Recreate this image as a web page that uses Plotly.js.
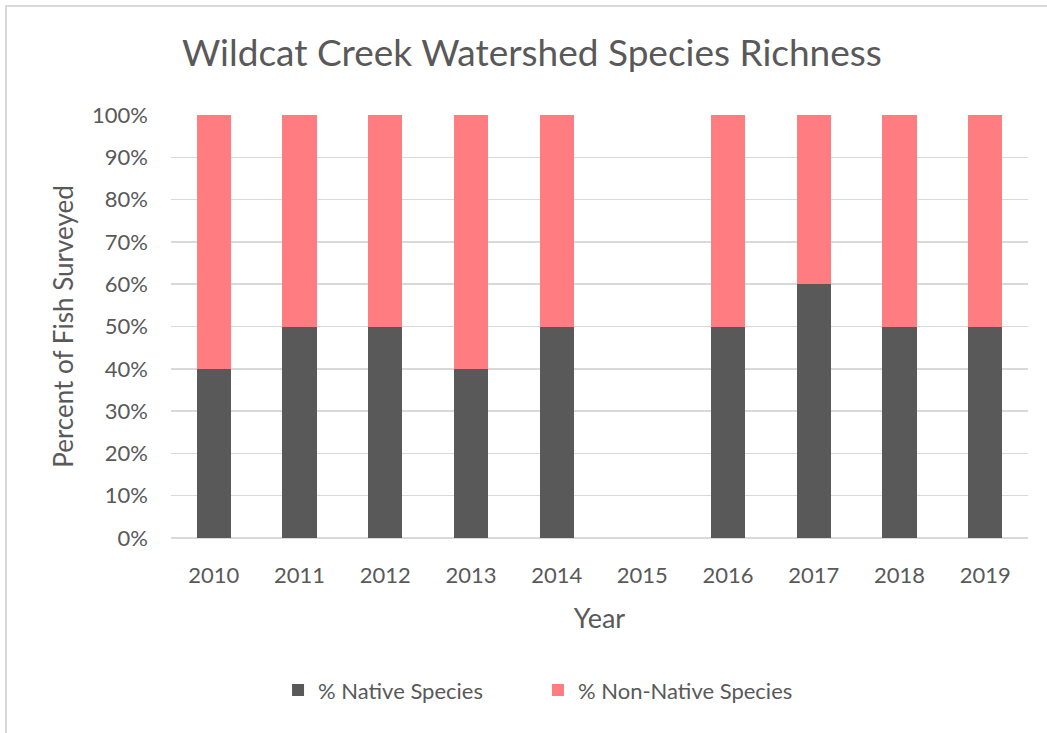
<!DOCTYPE html>
<html>
<head>
<meta charset="utf-8">
<script src="https://cdn.plot.ly/plotly-3.0.1.min.js"></script>
<style>
  html, body { margin: 0; padding: 0; background: #ffffff; }
  #chart { position: absolute; left: 0; top: 0; width: 1047px; height: 733px; }
  #frame { position: absolute; left: 5px; top: 5px; width: 1100px; height: 800px;
           border: 2px solid #d9d9d9; pointer-events: none; box-sizing: border-box; }
</style>
</head>
<body>
<div id="chart"></div>
<div id="frame"></div>
<script>
const years = ["2010", "2011", "2012", "2013", "2014", "2015", "2016", "2017", "2018", "2019"];
const nativePct = [40, 50, 50, 40, 50, null, 50, 60, 50, 50];
const nonNativePct = [60, 50, 50, 60, 50, null, 50, 40, 50, 50];
const yTicks = [0, 10, 20, 30, 40, 50, 60, 70, 80, 90, 100];
const yTickLabels = ["0%", "10%", "20%", "30%", "40%", "50%", "60%", "70%", "80%", "90%", "100%"];

const fontFam = "Lato, 'Open Sans', sans-serif";
const grey = "#595959";

const traces = [
  { type: "bar", name: "% Native Species", x: years, y: nativePct,
    marker: { color: "#595959" }, hoverinfo: "x+y+name", legend: "legend" },
  { type: "bar", name: "% Non-Native Species", x: years, y: nonNativePct,
    marker: { color: "#ff7c80" }, hoverinfo: "x+y+name", legend: "legend2" }
];

const legendBase = { orientation: "h", xanchor: "left", y: -0.36, yanchor: "middle",
                     font: { size: 22, color: grey, family: fontFam }, itemwidth: 30,
                     bgcolor: "rgba(0,0,0,0)" };

const layout = {
  width: 1047, height: 733,
  barmode: "stack", bargap: 0.6,
  paper_bgcolor: "#ffffff", plot_bgcolor: "#ffffff",
  margin: { l: 171, r: 19, t: 115, b: 195 },
  font: { family: fontFam, color: grey },
  title: { text: "Wildcat Creek Watershed Species Richness",
           font: { size: 37, color: grey, family: fontFam },
           x: 0.508, xanchor: "center", y: 0.927, yanchor: "middle" },
  xaxis: { type: "category", categoryorder: "array", categoryarray: years,
           showgrid: false, zeroline: false, showline: false,
           ticks: "", ticklabelstandoff: 22,
           tickfont: { size: 22, color: grey, family: fontFam },
           title: { text: "Year", font: { size: 27, color: grey, family: fontFam }, standoff: 22 } },
  yaxis: { range: [0, 100], tickvals: yTicks, ticktext: yTickLabels,
           showgrid: true, gridcolor: "#d9d9d9", gridwidth: 1.5,
           zeroline: true, zerolinecolor: "#d9d9d9", zerolinewidth: 2,
           showline: false, ticks: "", ticklabelstandoff: 22,
           tickfont: { size: 22, color: grey, family: fontFam },
           title: { text: "Percent of Fish Surveyed", font: { size: 26, color: grey, family: fontFam }, standoff: 10 } },
  legend: Object.assign({}, legendBase, { x: 0.1249 }),
  legend2: Object.assign({}, legendBase, { x: 0.4282 }),
  showlegend: true
};

Plotly.newPlot("chart", traces, layout, { displayModeBar: false, staticPlot: true });
</script>
</body>
</html>
